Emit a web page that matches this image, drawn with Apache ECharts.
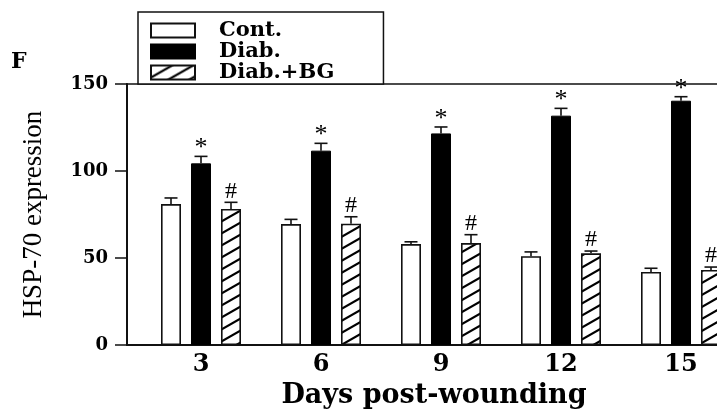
<!DOCTYPE html>
<html>
<head>
<meta charset="utf-8">
<script src="https://cdn.jsdelivr.net/npm/echarts@6/dist/echarts.min.js"></script>
<style>html,body{margin:0;padding:0;background:#fff}#chart{width:717px;height:411px}</style>
</head>
<body>
<div id="chart"></div>
<script>
const days = [3, 6, 9, 12, 15];
const yTicks = [0, 50, 100, 150];
const seriesNames = ['Cont.', 'Diab.', 'Diab.+BG'];
const cont = [81, 69.5, 58, 51, 42];
const contErr = [3.5, 2.7, 1.3, 2.5, 2.1];
const diab = [104.4, 111.7, 121.6, 131.8, 140.4];
const diabErr = [4, 4.2, 3.7, 4.2, 2.3];
const bg = [78.2, 69.7, 58.6, 52.7, 43.1];
const bgErr = [3.8, 4, 4.8, 1.3, 1.7];
const diabMarks = ['*', '*', '*', '*', '*'];
const bgMarks = ['#', '#', '#', '#', '#'];

const INK = '#111';
const SERIF_B = 'DejaVu Serif';

function hatch() {
  const c = document.createElement('canvas');
  c.width = 21; c.height = 12;
  const g = c.getContext('2d');
  g.fillStyle = '#fff'; g.fillRect(0, 0, 21, 12);
  g.strokeStyle = '#000'; g.lineWidth = 2.2;
  for (const dy of [-12, 0, 12]) {
    g.beginPath();
    g.moveTo(-21, 24 + dy);
    g.lineTo(42, -12 + dy);
    g.stroke();
  }
  return c;
}
const hatchFill = { image: hatch(), repeat: 'repeat' };

function errSeries(name, vals, errs, offset, marks, markFont, markDy) {
  return {
    name: name,
    type: 'custom',
    xAxisIndex: 0, yAxisIndex: 0,
    z: 5,
    clip: false,
    data: days.map((d, i) => [d, vals[i], errs[i], i]),
    renderItem: function (params, api) {
      const x = api.value(0), y = api.value(1), e = api.value(2), i = api.value(3);
      const p0 = api.coord([x, y]);
      const p1 = api.coord([x, y + e]);
      const cx = p0[0] + offset;
      const st = { stroke: INK, lineWidth: 1.6 };
      const children = [
        { type: 'line', shape: { x1: cx, y1: p0[1], x2: cx, y2: p1[1] }, style: st },
        { type: 'line', shape: { x1: cx - 6.5, y1: p1[1], x2: cx + 6.5, y2: p1[1] }, style: st }
      ];
      if (marks) {
        children.push({
          type: 'text',
          style: {
            text: marks[i], x: cx, y: p1[1] + markDy,
            align: 'center', verticalAlign: 'middle',
            font: markFont, fill: '#000'
          }
        });
      }
      return { type: 'group', children: children };
    }
  };
}

const chart = echarts.init(document.getElementById('chart'));
chart.setOption({
  animation: false,
  backgroundColor: '#fff',
  title: {
    text: 'F', left: 11, top: 51, padding: 0,
    textStyle: { fontFamily: SERIF_B, fontWeight: 'bold', fontSize: 22, color: '#000' }
  },
  legend: {
    data: seriesNames,
    orient: 'vertical',
    left: 138, top: 12,
    icon: 'rect',
    itemWidth: 44, itemHeight: 14, itemGap: 0,
    padding: [8, 49, 1, 12],
    borderColor: INK, borderWidth: 1.5,
    backgroundColor: '#fff',
    selectedMode: false,
    textStyle: {
      fontFamily: SERIF_B, fontWeight: 'bold', fontSize: 21, lineHeight: 21,
      color: '#000', padding: [0, 0, 0, 19]
    }
  },
  grid: { left: 127, right: 0, top: 84, bottom: 66, containLabel: false, outerBoundsMode: 'none' },
  xAxis: [{
    type: 'value', min: 1.15, max: 15.9,
    axisLine: { show: true, lineStyle: { color: INK, width: 2 } },
    axisTick: { show: false },
    splitLine: { show: false },
    axisLabel: {
      customValues: days,
      margin: 8,
      fontFamily: SERIF_B, fontWeight: 'bold', fontSize: 24, color: '#000'
    },
    name: 'Days post-wounding',
    nameLocation: 'middle',
    nameGap: 37,
    nameTextStyle: {
      fontFamily: SERIF_B, fontWeight: 'bold', fontSize: 27, color: '#000',
      padding: [0, 0, 0, 24]
    }
  }, {
    type: 'value', min: 1.15, max: 15.9, position: 'top',
    axisLine: { show: true, onZero: false, lineStyle: { color: INK, width: 1.5 } },
    axisTick: { show: false }, axisLabel: { show: false }, splitLine: { show: false }
  }],
  yAxis: {
    type: 'value', min: 0, max: 150, interval: 50,
    axisLine: { show: true, lineStyle: { color: INK, width: 2 } },
    axisTick: { show: true, inside: false, length: 12, lineStyle: { color: INK, width: 1.5 } },
    splitLine: { show: false },
    axisLabel: {
      customValues: yTicks,
      margin: 19,
      fontFamily: SERIF_B, fontWeight: 'bold', fontSize: 18, color: '#000'
    },
    name: 'HSP-70 expression',
    nameLocation: 'middle',
    nameRotate: 90,
    nameGap: 80,
    nameTextStyle: { fontFamily: 'Liberation Serif', fontSize: 27, color: '#000' }
  },
  series: [
    {
      name: seriesNames[0], type: 'bar', barWidth: 20, barGap: '50%',
      data: days.map((d, i) => [d, cont[i]]),
      itemStyle: { color: '#fff', borderColor: INK, borderWidth: 1.6 }
    },
    {
      name: seriesNames[1], type: 'bar', barWidth: 20, barGap: '50%',
      data: days.map((d, i) => [d, diab[i]]),
      itemStyle: { color: '#000', borderColor: '#000', borderWidth: 1 }
    },
    {
      name: seriesNames[2], type: 'bar', barWidth: 20, barGap: '50%',
      data: days.map((d, i) => [d, bg[i]]),
      itemStyle: { color: hatchFill, borderColor: INK, borderWidth: 1.6 }
    },
    errSeries('errCont', cont, contErr, -30, null),
    errSeries('errDiab', diab, diabErr, 0, diabMarks, '26px "Liberation Serif"', -8),
    errSeries('errBG', bg, bgErr, 30, bgMarks, '24px "Liberation Serif"', -11)
  ]
});
</script>
</body>
</html>
